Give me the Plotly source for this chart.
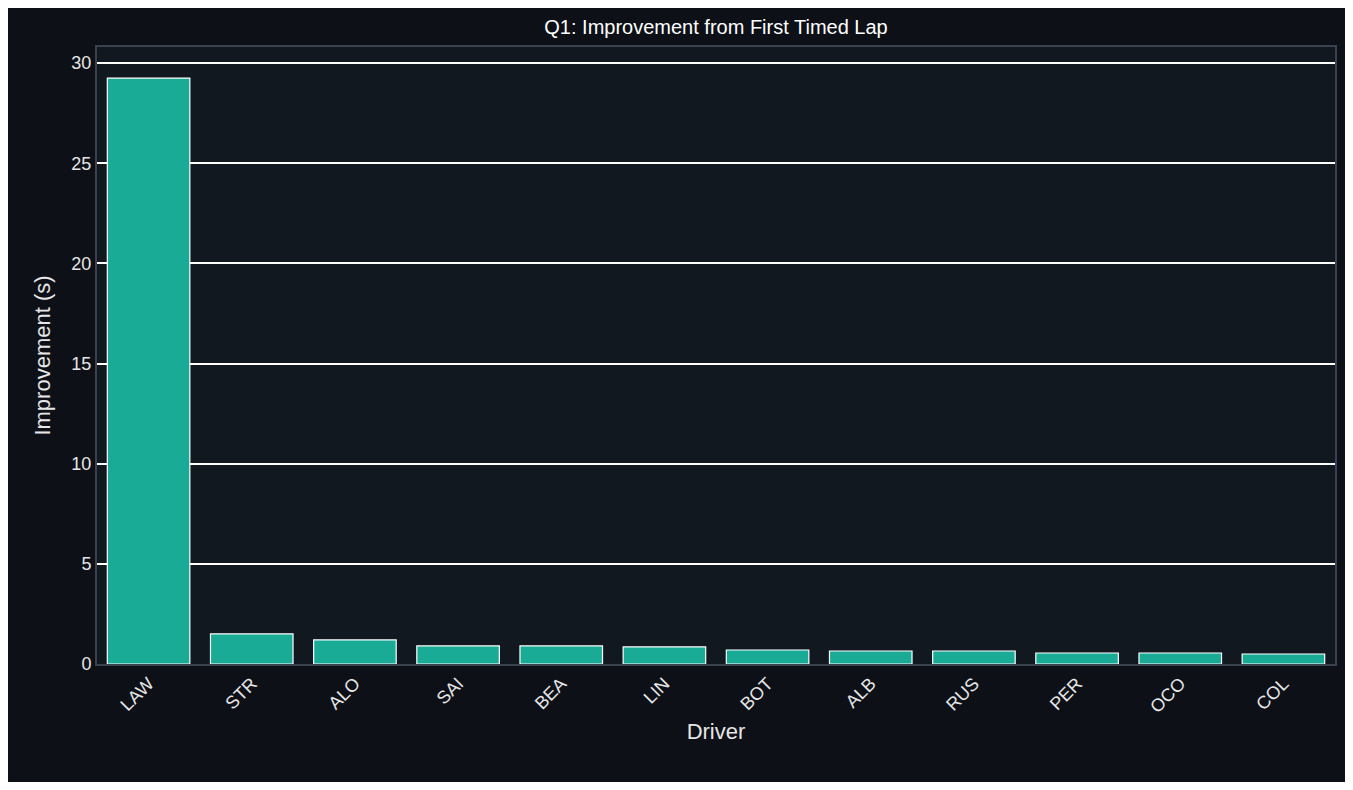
import plotly.graph_objects as go

drivers = ["LAW","STR","ALO","SAI","BEA","LIN","BOT","ALB","RUS","PER","OCO","COL"]
improvement = [29.25, 1.5, 1.2, 0.9, 0.9, 0.85, 0.7, 0.65, 0.65, 0.55, 0.55, 0.5]

fig = go.Figure(go.Bar(
    x=drivers, y=improvement,
    marker=dict(color="#1aab96", line=dict(color="white", width=1.2)),
))
fig.update_layout(
    width=1337, height=774,
    paper_bgcolor="#0d1017", plot_bgcolor="#121820",
    font=dict(family="Liberation Sans, Arial", color="#e6e6e6", size=18),
    title=dict(text="Q1: Improvement from First Timed Lap", x=0.5, xanchor="center",
               xref="paper", y=1 - 19/774, yanchor="middle", font=dict(size=20, color="white")),
    margin=dict(l=89, r=8, t=39, b=118),
    showlegend=False,
    bargap=0.2,
)
fig.update_xaxes(title=dict(text="Driver", standoff=8), tickangle=-45, showgrid=False,
                 showline=True, linecolor="#3a4250", linewidth=2, mirror=True, ticks="",
                 range=[-0.5, 11.5])
fig.update_yaxes(title=dict(text="Improvement (s)"), range=[0, 30.8], dtick=5,
                 showgrid=True, gridcolor="white", gridwidth=1.5, zeroline=False,
                 showline=True, linecolor="#3a4250", linewidth=2, mirror=True, ticks="")
fig.write_html("out.html")
